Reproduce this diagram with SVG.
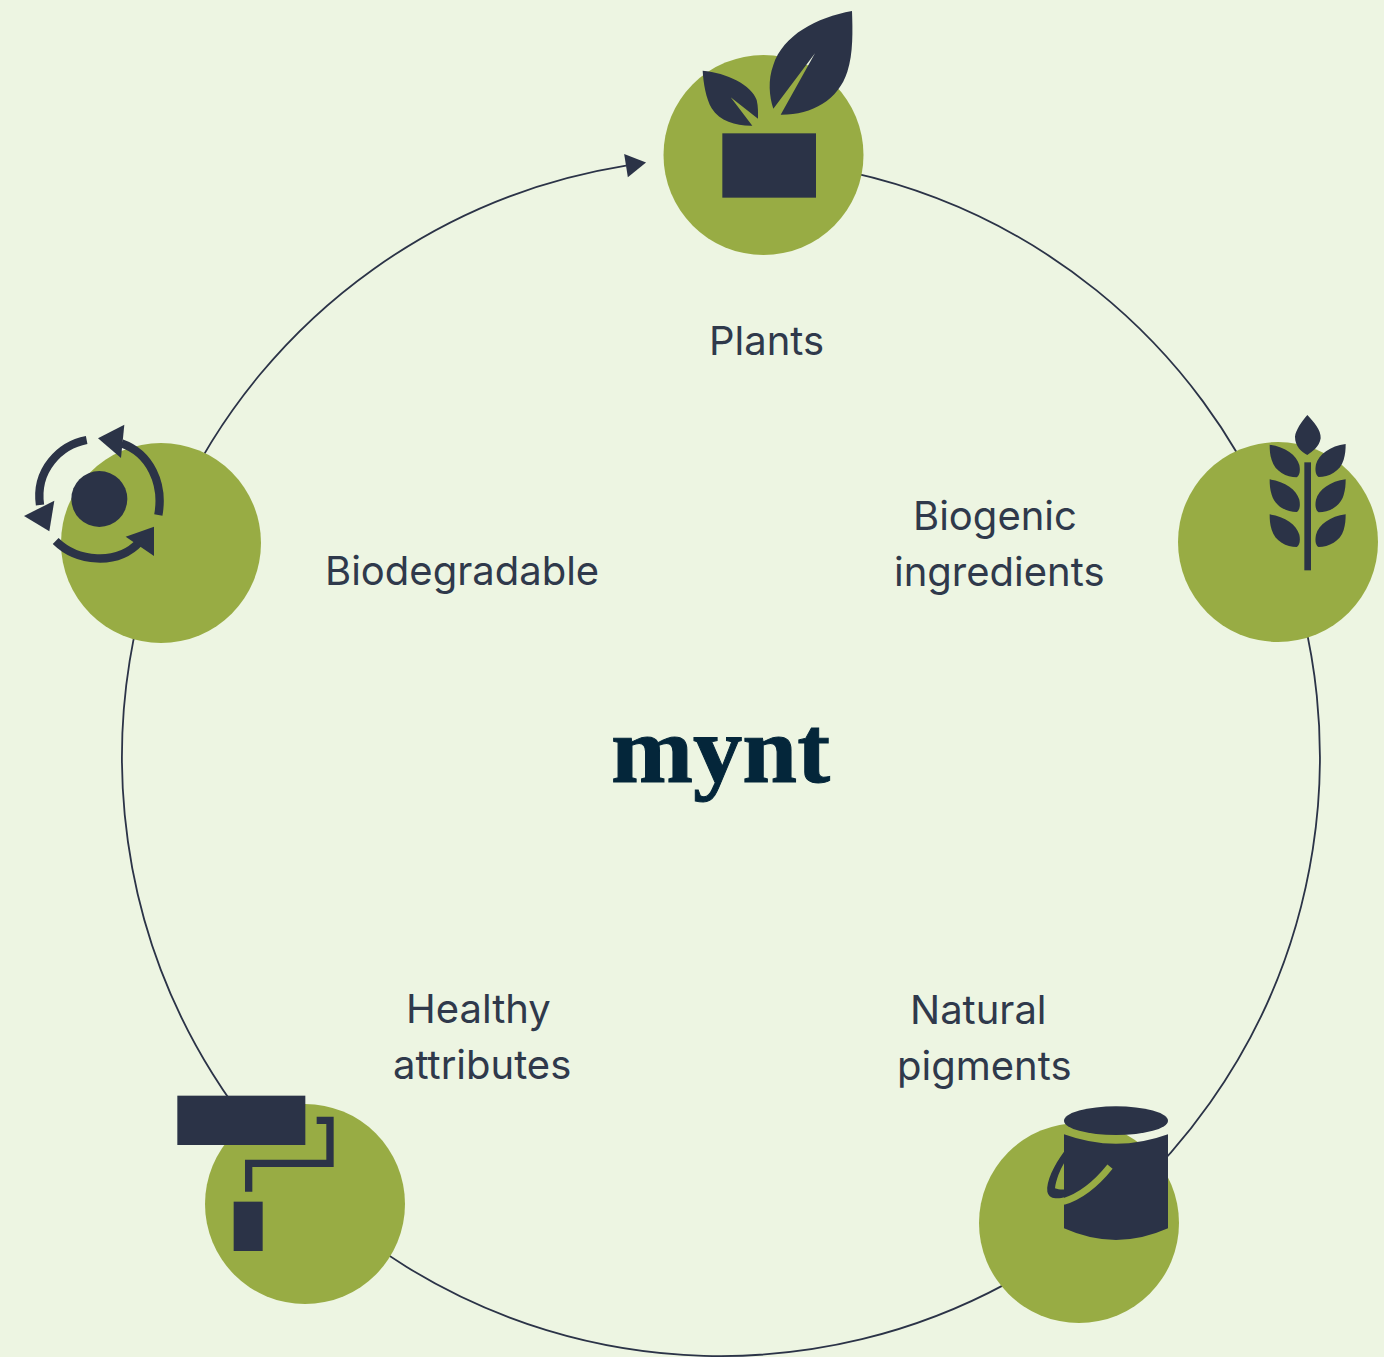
<svg xmlns="http://www.w3.org/2000/svg" width="1384" height="1357" viewBox="0 0 1384 1357">
<style>
.disc{fill:#98ac44}
.ink{fill:#2b3347}
.lbl{font-family:Inter,"Liberation Sans",sans-serif;font-size:40px;fill:#2f394b}
.logo{font-family:"Liberation Serif",serif;font-weight:700;font-size:95px;fill:#04263a;stroke:#04263a;stroke-width:1}
</style>
<defs>
<marker id="arrow" markerUnits="userSpaceOnUse" markerWidth="30" markerHeight="30" refX="4" refY="15" orient="auto" viewBox="0 0 30 30">
<path d="M4,3.3 L24.3,15 L4,26.7 Z" fill="#2b3347"/>
</marker>
</defs>
<rect width="1384" height="1357" fill="#edf5e2"/>
<g id="connectors">
<path d="M850,172.1 A599,599 0 1 1 626,165.6" fill="none" stroke="#2b3347" stroke-width="1.8" marker-end="url(#arrow)"/>
</g>
<g id="plants">
<circle class="disc" cx="763.5" cy="155" r="100"/>
<g transform="translate(620,0) scale(0.33333)">
<rect class="ink" x="307" y="400" width="281" height="193"/>
<path class="ink" d="M696,33 C590,52 490,105 460,195 C443,240 448,290 460,326 L585,160 L482,344 C575,345 655,300 682,215 C700,160 698,90 696,33 Z"/>
<path class="ink" d="M248,212 C320,218 395,255 410,300 C415,320 414,340 414,356 L332,292 L397,377 C350,378 300,365 275,325 C258,295 250,250 248,212 Z"/>
</g>
<text class="lbl" x="709" y="355">Plants</text>
</g>
<g id="biogenic">
<circle class="disc" cx="1278" cy="542" r="100"/>
<g transform="translate(1180,400) scale(0.33333)">
<rect class="ink" x="373" y="187" width="20" height="324"/>
<path class="ink" d="M382,45 C400,65 424,90 422,115 C418,140 398,155 382,165 C365,155 345,140 345,110 C347,90 365,65 382,45 Z"/>
<path class="ink" d="M269,134 C315,140 350,165 358,195 C362,215 358,228 350,232 C320,232 285,215 275,180 C270,165 269,150 269,134 Z"/>
<path class="ink" d="M269,238 C315,244 350,269 358,299 C362,319 358,332 350,336 C320,336 285,319 275,284 C270,269 269,254 269,238 Z"/>
<path class="ink" d="M269,343 C315,349 350,374 358,404 C362,424 358,437 350,441 C320,441 285,424 275,389 C270,374 269,359 269,343 Z"/>
<path class="ink" d="M497,132 C451,138 416,163 408,193 C404,213 408,226 416,231 C446,231 481,214 491,179 C496,164 497,148 497,132 Z"/>
<path class="ink" d="M497,238 C451,244 416,269 408,299 C404,319 408,332 416,337 C446,337 481,320 491,285 C496,270 497,254 497,238 Z"/>
<path class="ink" d="M497,343 C451,349 416,374 408,404 C404,424 408,437 416,441 C446,441 481,424 491,390 C496,375 497,359 497,343 Z"/>
</g>
<text class="lbl" x="913" y="530">Biogenic</text>
<text class="lbl" x="894" y="586">ingredients</text>
</g>
<g id="pigments">
<circle class="disc" cx="1079" cy="1223" r="100"/>
<g transform="translate(1030,1090) scale(0.33333)">
<ellipse class="ink" cx="258" cy="92" rx="156" ry="43"/>
<path class="ink" d="M102,133 Q258,190 414,133 L414,415 Q258,485 102,415 Z"/>
<path class="ink" d="M102,185 C72,225 48,275 52,305 C58,330 85,326 106,322 L106,298 C95,300 84,298 75,295 C78,270 90,240 102,220 Z"/>
<path d="M240,230 C200,280 150,320 100,335" fill="none" stroke="#98ac44" stroke-width="20"/>
</g>
<text class="lbl" x="910" y="1024">Natural</text>
<text class="lbl" x="897" y="1080">pigments</text>
</g>
<g id="healthy">
<circle class="disc" cx="305" cy="1204" r="100"/>
<g transform="translate(160,1080) scale(0.33333)">
<rect class="ink" x="52" y="47" width="384" height="148"/>
<path d="M470,121 H510 V250 H266 V335" fill="none" stroke="#2b3347" stroke-width="22"/>
<rect class="ink" x="221" y="365" width="87" height="148"/>
</g>
<text class="lbl" x="406" y="1023">Healthy</text>
<text class="lbl" x="393" y="1079">attributes</text>
</g>
<g id="biodegradable">
<circle class="disc" cx="161" cy="543" r="100"/>
<g transform="translate(10,410) scale(0.33333)">
<circle class="ink" cx="268" cy="267" r="84"/>
<path d="M230,90 C150,105 75,180 90,285" fill="none" stroke="#2b3347" stroke-width="25"/>
<path class="ink" d="M133,272 L118,364 L42,318 Z"/>
<path d="M445,315 C462,220 420,130 335,100" fill="none" stroke="#2b3347" stroke-width="25"/>
<path class="ink" d="M343,44 L264,85 L333,144 Z"/>
<path d="M137,393 C200,455 320,470 390,395" fill="none" stroke="#2b3347" stroke-width="25"/>
<path class="ink" d="M432,350 L347,380 L432,438 Z"/>
</g>
<text class="lbl" x="325" y="585">Biodegradable</text>
</g>
<g id="logo">
<text class="logo" x="611" y="782" textLength="219" lengthAdjust="spacingAndGlyphs">mynt</text>
</g>
</svg>
